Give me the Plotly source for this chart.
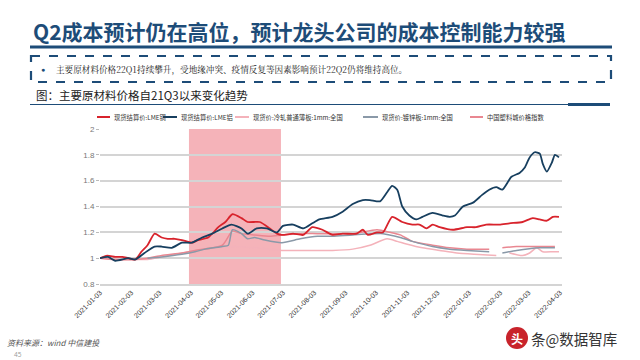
import plotly.graph_objects as go

# ---------------- data ----------------
cu_dates = ["2021-01-03","2021-01-10","2021-01-18","2021-01-25","2021-01-31","2021-02-07","2021-02-13","2021-02-19",
            "2021-02-26","2021-03-05","2021-03-11","2021-03-18","2021-03-25","2021-04-04","2021-04-10","2021-04-20",
            "2021-04-30","2021-05-07","2021-05-14","2021-05-23","2021-05-29","2021-06-10","2021-06-20","2021-06-27",
            "2021-07-02","2021-07-13","2021-07-23","2021-08-01","2021-08-11","2021-08-21","2021-08-31","2021-09-14",
            "2021-09-20","2021-09-25","2021-10-04","2021-10-10","2021-10-19","2021-10-29","2021-11-08","2021-11-15",
            "2021-11-22","2021-11-28","2021-12-05","2021-12-18","2022-01-01","2022-01-10","2022-01-20","2022-02-02",
            "2022-02-12","2022-02-25","2022-03-07","2022-03-14","2022-03-21","2022-03-27","2022-04-02"]
cu_values = [1.00,1.02,1.01,1.01,1.00,0.99,1.05,1.10,
             1.19,1.16,1.15,1.15,1.14,1.12,1.14,1.16,
             1.24,1.28,1.34,1.31,1.28,1.28,1.23,1.19,
             1.18,1.19,1.18,1.24,1.22,1.18,1.19,1.19,
             1.22,1.18,1.20,1.20,1.32,1.28,1.26,1.26,
             1.23,1.26,1.24,1.22,1.24,1.24,1.26,1.26,
             1.27,1.28,1.31,1.30,1.29,1.32,1.32]

al_dates = ["2021-01-03","2021-01-11","2021-01-18","2021-01-31","2021-02-07","2021-02-16","2021-02-26","2021-03-05",
            "2021-03-15","2021-03-25","2021-04-04","2021-04-14","2021-04-24","2021-05-04","2021-05-13","2021-05-23",
            "2021-05-29","2021-06-07","2021-06-17","2021-06-27","2021-07-03","2021-07-13","2021-07-23","2021-08-01",
            "2021-08-08","2021-08-21","2021-08-31","2021-09-10","2021-09-20","2021-09-27","2021-10-07","2021-10-14",
            "2021-10-19","2021-10-24","2021-10-29","2021-11-05","2021-11-12","2021-11-18","2021-11-28","2021-12-08",
            "2021-12-15","2021-12-20","2021-12-28","2022-01-07","2022-01-16","2022-01-23","2022-01-30","2022-02-05",
            "2022-02-14","2022-02-22","2022-02-27","2022-03-04","2022-03-09","2022-03-14","2022-03-17","2022-03-21",
            "2022-03-26","2022-03-29","2022-04-02"]
al_values = [1.00,1.01,0.98,1.00,0.99,1.04,1.09,1.09,
             1.08,1.12,1.12,1.16,1.19,1.23,1.26,1.23,
             1.19,1.23,1.23,1.20,1.25,1.26,1.23,1.27,
             1.30,1.32,1.36,1.42,1.45,1.45,1.44,1.51,
             1.56,1.53,1.40,1.33,1.30,1.32,1.35,1.33,
             1.32,1.33,1.40,1.43,1.49,1.53,1.55,1.53,
             1.63,1.66,1.70,1.78,1.82,1.81,1.73,1.67,
             1.74,1.80,1.78]

cr_dates = ["2021-01-03","2021-01-18","2021-02-07","2021-02-19","2021-03-05","2021-03-25","2021-04-14","2021-05-04",
            "2021-05-14","2021-06-05","2021-07-02","2021-08-06","2021-08-21","2021-09-10","2021-09-27","2021-10-14",
            "2021-10-24","2021-11-02","2021-11-18","2021-12-05","2021-12-22","2022-01-08","2022-01-30","2022-02-06",
            "2022-02-12","2022-02-25","2022-03-04","2022-03-11","2022-03-17","2022-03-27","2022-04-02"]
cr_values = [1.00,0.99,0.99,0.99,1.01,1.04,1.07,1.08,
             1.09,1.08,1.06,1.06,1.06,1.07,1.10,1.15,
             1.13,1.11,1.08,1.06,1.04,1.03,1.02,None,
             1.04,1.02,1.04,1.08,1.05,1.05,1.05]

gi_dates = ["2021-02-19","2021-03-05","2021-03-25","2021-04-07","2021-04-17","2021-05-04","2021-05-10","2021-05-14",
            "2021-05-23","2021-05-29","2021-06-05","2021-06-15","2021-07-02","2021-07-20","2021-08-06","2021-08-21",
            "2021-09-10","2021-10-10","2021-10-27","2021-11-08","2021-11-28","2021-12-15","2022-01-01","2022-01-23",
            "2022-01-29","2022-02-05","2022-02-19","2022-03-14","2022-03-29"]
gi_values = [1.00,1.01,1.03,1.05,1.07,1.09,1.10,1.22,
             1.19,1.15,1.16,1.14,1.12,1.15,1.17,1.17,
             1.18,1.19,1.16,1.13,1.09,1.07,1.06,1.05,
             None,1.04,1.06,1.08,1.08]

pl_dates = ["2021-01-03","2021-01-18","2021-02-07","2021-02-19","2021-03-05","2021-03-25","2021-04-07","2021-05-04",
            "2021-05-14","2021-05-23","2021-06-05","2021-06-20","2021-07-02","2021-07-20","2021-08-06","2021-09-10",
            "2021-10-04","2021-10-17","2021-10-27","2021-11-08","2021-11-28","2021-12-15","2022-01-01","2022-01-23",
            "2022-01-29","2022-02-05","2022-02-19","2022-03-07","2022-03-29"]
pl_values = [1.00,0.99,0.99,1.00,1.02,1.04,1.06,1.10,
             1.21,1.19,1.18,1.17,1.18,1.19,1.19,1.19,
             1.22,1.20,1.18,1.13,1.10,1.08,1.07,1.07,
             None,1.08,1.09,1.09,1.09]

series_names = ["现货结算价:LME铜", "现货结算价:LME铝", "现货价:冷轧普通薄板:1mm:全国",
                "现货价:镀锌板:1mm:全国", "中国塑料城价格指数"]
series_colors = ["#d8232c", "#173f5f", "#f4b2ba", "#8a99a8", "#e98791"]

y_ticks = [0.8, 1.0, 1.2, 1.4, 1.6, 1.8, 2.0]
y_tick_text = ["0.8", "1", "1.2", "1.4", "1.6", "1.8", "2"]
x_ticks = ["2021-01-03","2021-02-03","2021-03-03","2021-04-03","2021-05-03","2021-06-03","2021-07-03",
           "2021-08-03","2021-09-03","2021-10-03","2021-11-03","2021-12-03","2022-01-03","2022-02-03",
           "2022-03-03","2022-04-03"]
shade_start, shade_end = "2021-04-01", "2021-07-01"

# ---------------- layout geometry ----------------
L, R, T, B = 100, 562, 129, 284
W, H = 640, 360
def fx(p):
    return (p - L) / (R - L)
def fy(p):
    return (B - p) / (B - T)

fig = go.Figure()
data = [(cu_dates, cu_values), (al_dates, al_values), (cr_dates, cr_values),
        (gi_dates, gi_values), (pl_dates, pl_values)]
widths = [1.8, 1.8, 1.5, 1.5, 1.5]
order = [2, 4, 3, 0, 1]  # drawing order (light lines first)
for i in order:
    d, v = data[i]
    fig.add_trace(go.Scatter(x=d, y=v, mode="lines", name=series_names[i], showlegend=False,
                             line=dict(color=series_colors[i], width=widths[i], shape="spline", smoothing=0.6),
                             connectgaps=False))

navy = "#1d4c78"
shapes = [
    dict(type="rect", xref="x", yref="paper", x0=shade_start, x1=shade_end, y0=0, y1=1,
         fillcolor="#f5b3b9", line=dict(width=0), layer="between"),
    # title underline
    dict(type="line", xref="paper", yref="paper", x0=fx(30), x1=fx(612), y0=fy(47), y1=fy(47),
         line=dict(color=navy, width=3)),
    # dashed box
    dict(type="rect", xref="paper", yref="paper", x0=fx(31), x1=fx(611), y0=fy(56), y1=fy(82),
         line=dict(color=navy, width=2.2, dash="dash")),
    # subtitle rule
    dict(type="line", xref="paper", yref="paper", x0=fx(30), x1=fx(610), y0=fy(104.5), y1=fy(104.5),
         line=dict(color=navy, width=1)),
    dict(type="line", xref="paper", yref="paper", x0=fx(568), x1=fx(610), y0=fy(104.5), y1=fy(104.5),
         line=dict(color=navy, width=3)),
    # watermark logo circle
    dict(type="circle", xref="paper", yref="paper", x0=fx(506), x1=fx(528), y0=fy(327), y1=fy(349),
         fillcolor="#c8232b", line=dict(width=0)),
]

ann = [
    dict(text="<b>Q2成本预计仍在高位，预计龙头公司的成本控制能力较强</b>", x=fx(31), y=fy(31),
         xanchor="left", yanchor="middle", font=dict(size=21, color=navy, family="Noto Sans CJK SC")),
    dict(text="●", x=fx(43), y=fy(69.5), xanchor="center", yanchor="middle",
         font=dict(size=7, color=navy)),
    dict(text="主要原材料价格22Q1持续攀升，受地缘冲突、疫情反复等因素影响预计22Q2仍将维持高位。",
         x=fx(54), y=fy(69.5), xanchor="left", yanchor="middle",
         font=dict(size=8.6, color="#222", family="Noto Serif CJK SC, Noto Sans CJK SC")),
    dict(text="图：主要原材料价格自21Q3以来变化趋势", x=fx(34), y=fy(95), xanchor="left", yanchor="middle",
         font=dict(size=11.5, color="#222", family="Noto Sans CJK SC")),
    dict(text="<i>资料来源：wind 中信建投</i>", x=fx(5), y=fy(342), xanchor="left", yanchor="middle",
         font=dict(size=8, color="#555", family="Noto Sans CJK SC")),
    dict(text="45", x=fx(12), y=fy(354), xanchor="left", yanchor="middle",
         font=dict(size=6.5, color="#999")),
    dict(text="<b>头</b>", x=fx(517), y=fy(338), xanchor="center", yanchor="middle",
         font=dict(size=12, color="white", family="Noto Sans CJK SC")),
    dict(text="条@数据智库", x=fx(529), y=fy(338), xanchor="left", yanchor="middle",
         font=dict(size=14.5, color="#333", family="Noto Sans CJK SC")),
]

# manual compact legend (line sample + label)
legend_line_x = [(97, 110), (163, 177), (235, 249), (363, 378), (470, 483)]
legend_y = 117
for i, (a, b) in enumerate(legend_line_x):
    shapes.append(dict(type="line", xref="paper", yref="paper", x0=fx(a), x1=fx(b),
                       y0=fy(legend_y), y1=fy(legend_y),
                       line=dict(color=series_colors[i], width=2)))
    ann.append(dict(text=series_names[i], x=fx(b + 2), y=fy(legend_y), xanchor="left", yanchor="middle",
                    font=dict(size=6.3, color="#333", family="Noto Sans CJK SC")))

for a in ann:
    a.update(xref="paper", yref="paper", showarrow=False)

fig.update_layout(
    width=W, height=H,
    margin=dict(l=L, r=W - R, t=T, b=H - B, pad=0),
    paper_bgcolor="white", plot_bgcolor="white",
    shapes=shapes, annotations=ann,
    showlegend=False,
    xaxis=dict(type="date", range=["2021-01-03", "2022-04-05"], tickvals=x_ticks,
               tickformat="%Y-%m-%d", tickangle=-45, showgrid=False,
               showline=True, linecolor="#d4d4d4", linewidth=1.5, ticks="",
               tickfont=dict(size=7, color="#333", family="Liberation Sans"), fixedrange=True),
    yaxis=dict(range=[0.8, 2.0], tickvals=y_ticks, ticktext=y_tick_text, showgrid=True,
               gridcolor="#d4d4d4", gridwidth=1.5, zeroline=False, ticks="outside", ticklen=3,
               tickcolor="#bbb", tickfont=dict(size=8, color="#777", family="Liberation Sans"),
               fixedrange=True),
)

fig.write_html("out.html", config={"displayModeBar": False},
               post_script="document.body.style.margin='0';document.body.style.padding='0';")
